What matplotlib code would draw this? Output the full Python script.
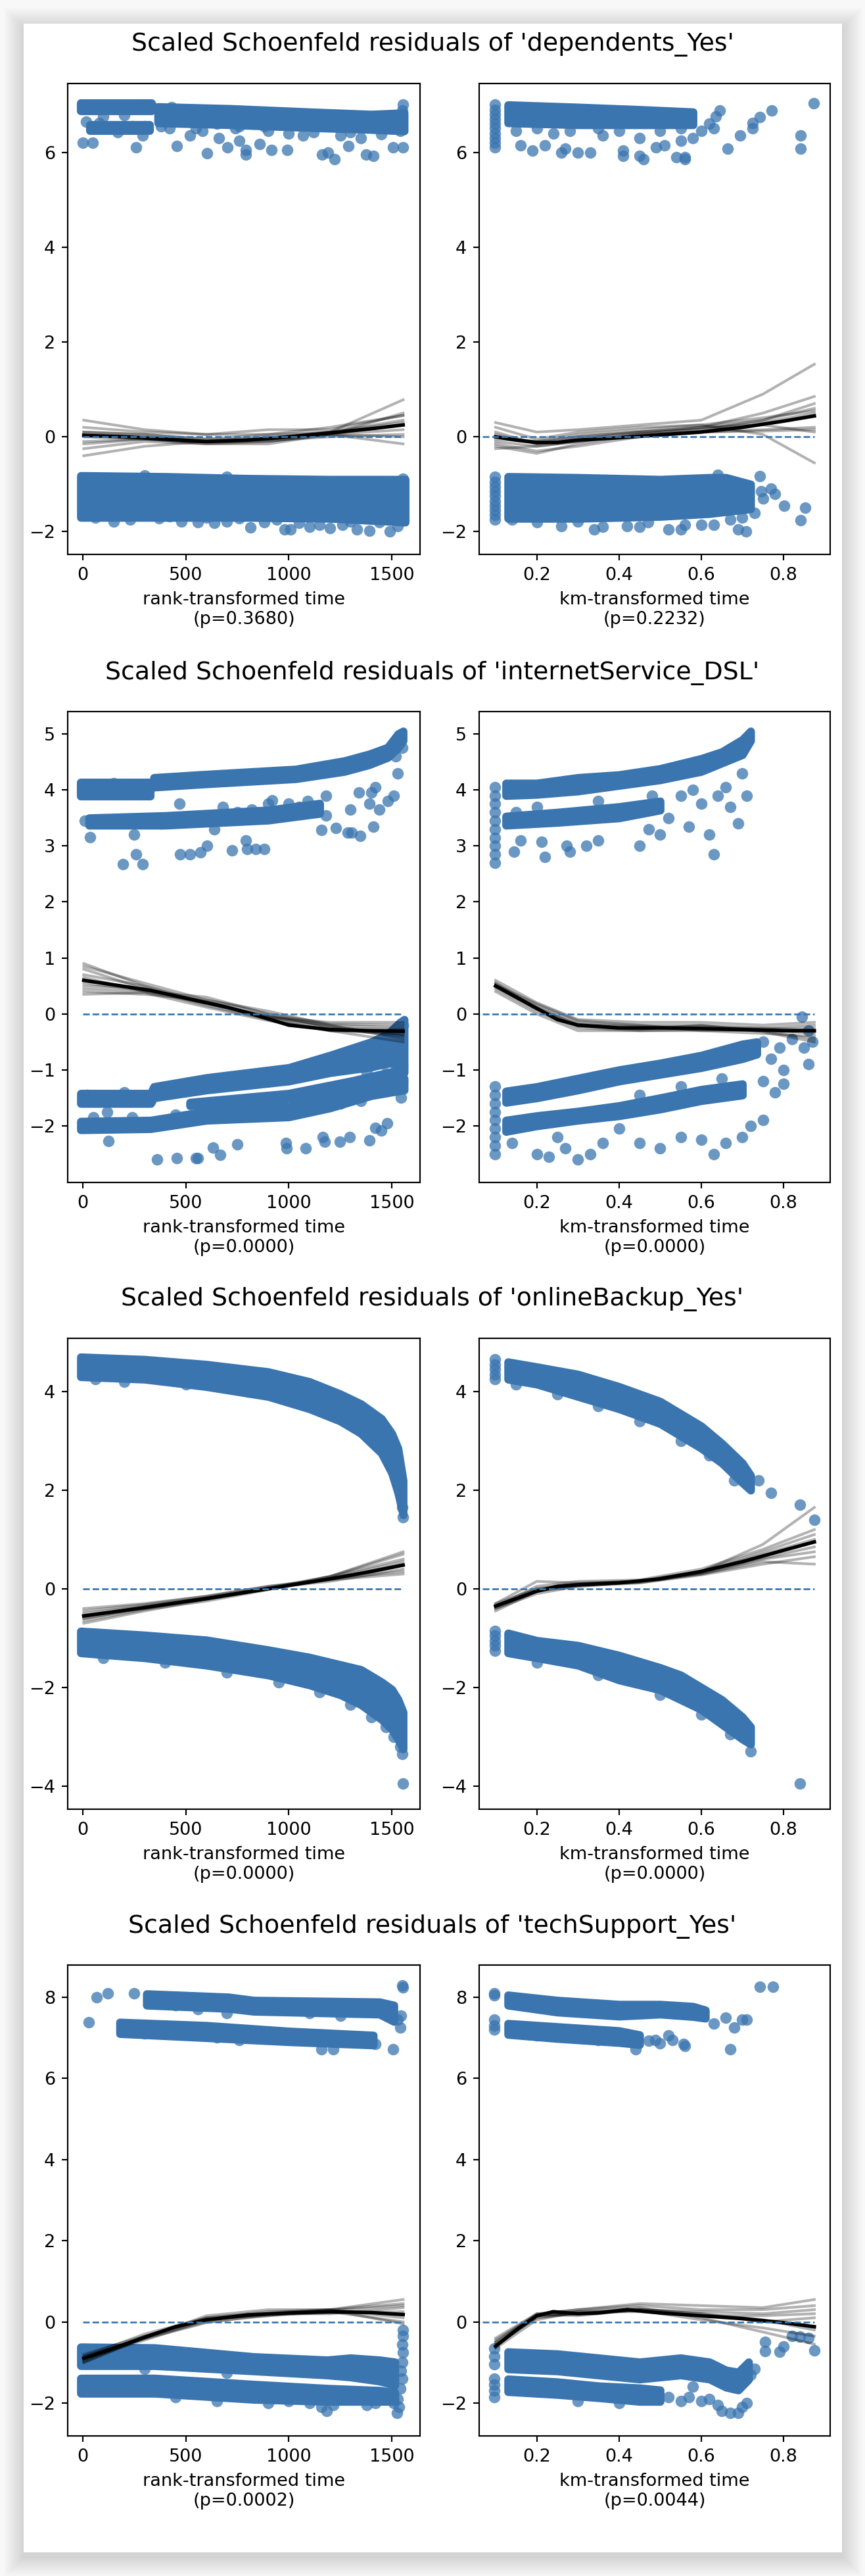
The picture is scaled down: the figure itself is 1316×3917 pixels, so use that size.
import matplotlib.pyplot as plt
from matplotlib.patches import Rectangle

# size of the reference picture and the scale it was drawn at
W, H = 1316, 3917
DPI = 195
DOT = "#3a75af"

variables = ["dependents_Yes", "internetService_DSL", "onlineBackup_Yes", "techSupport_Yes"]
p_rank = [0.3680, 0.0000, 0.0000, 0.0002]
p_km = [0.2232, 0.0000, 0.0000, 0.0044]
y_ticks = [[-2, 0, 2, 4, 6], [-2, -1, 0, 1, 2, 3, 4, 5], [-4, -2, 0, 2, 4], [-2, 0, 2, 4, 6, 8]]
y_limits = [(-2.48, 7.45), (-3.01, 5.40), (-4.47, 5.08), (-2.81, 8.79)]
rank_ticks = [0, 500, 1000, 1500]
km_ticks = [0.2, 0.4, 0.6, 0.8]
rank_lim = (-73, 1637)
km_lim = (0.060, 0.9135)
rank_max = 1555
km_max = 0.875

# x positions where the bootstrap lowess curves were read
RANK_KNOTS = [5, 300, 600, 900, 1200, 1555]
KM_KNOTS = [0.1, 0.2, 0.3, 0.45, 0.6, 0.75, 0.875]

# ---------------- dependents_Yes ----------------
# dense clouds of residuals: (x, lower edge, upper edge)
dep_rank_bands = [
    ([-10, 335], [6.87, 6.87], [7.04, 7.04]),
    ([35, 325], [6.45, 6.45], [6.58, 6.58]),
    ([365, 720, 1100, 1400, 1560], [6.62, 6.58, 6.52, 6.48, 6.45], [6.96, 6.92, 6.85, 6.8, 6.83]),
    ([-10, 400, 800, 1200, 1565], [-1.7, -1.7, -1.7, -1.72, -1.8], [-0.82, -0.84, -0.88, -0.9, -0.9]),
]
dep_rank_dots = [
    (0, 6.2), (48, 6.2), (15, 6.65), (80, 6.62), (170, 6.42), (260, 6.1), (290, 6.35), (455, 6.13),
    (420, 6.5), (520, 6.35), (580, 6.45), (603, 5.98), (650, 6.6), (660, 6.3), (703, 6.1), (740, 6.5),
    (760, 6.25), (792, 5.95), (792, 6.05), (857, 6.18), (880, 6.55), (917, 6.05), (993, 6.05), (1000, 6.4),
    (1070, 6.35), (1163, 5.95), (1190, 6.0), (1223, 5.85), (1288, 6.13), (1250, 6.35), (1376, 5.95),
    (1410, 5.92), (1350, 6.3), (1507, 6.1), (1555, 6.1), (1540, 6.45), (1555, 7.0), (1550, 6.88),
    (100, 6.75), (200, 6.78), (240, 6.55), (380, 6.55), (430, 6.95), (550, 6.5), (620, 6.88), (760, 6.55),
    (900, 6.45), (950, 6.8), (1120, 6.42), (1150, 6.65), (1300, 6.42), (1450, 6.38), (1500, 6.5),
    (340, 6.95), (120, 6.5), (300, 6.55),
    (230, -1.75), (370, -1.72), (480, -1.78), (560, -1.8), (640, -1.82), (700, -1.78), (815, -1.91),
    (880, -1.8), (980, -1.95), (1010, -1.95), (1050, -1.82), (1150, -1.85), (1200, -1.92), (1330, -1.95),
    (1390, -1.98), (1490, -2.0), (1530, -1.88), (1100, -1.9), (1260, -1.85), (150, -1.78), (1555, -0.88),
    (20, -1.62), (60, -1.7), (300, -1.65), (420, -1.68), (600, -1.7), (760, -1.72), (940, -1.74),
    (1300, -1.78), (1440, -1.8), (1545, -1.7), (1540, -0.95), (700, -0.85), (300, -0.82),
]
dep_rank_fit_x = [5, 200, 400, 600, 800, 1000, 1200, 1400, 1555]
dep_rank_fit_y = [0.03, 0.0, -0.05, -0.1, -0.07, 0.0, 0.08, 0.17, 0.25]
dep_rank_boot = [
    [0.35, 0.15, 0.05, 0.05, 0.1, 0.78],
    [-0.4, -0.2, -0.1, -0.05, 0.05, 0.5],
    [0.2, 0.1, 0.05, 0.15, 0.15, 0.45],
    [-0.25, -0.1, -0.15, -0.15, 0.05, 0.0],
    [0.1, 0.05, -0.05, 0.05, 0.2, 0.45],
    [-0.1, -0.05, -0.15, -0.1, 0.05, -0.15],
    [0.05, 0.0, -0.1, 0.0, 0.1, 0.3],
    [-0.15, -0.05, -0.1, -0.08, 0.0, 0.05],
    [0.1, 0.05, -0.05, -0.05, 0.1, 0.35],
    [0.0, -0.05, -0.12, -0.1, 0.05, 0.15],
]

dep_km_bands = [
    ([0.13, 0.3, 0.45, 0.58], [6.62, 6.58, 6.58, 6.58], [7.0, 6.95, 6.9, 6.85]),
    ([0.13, 0.3, 0.5, 0.62, 0.66, 0.72], [-1.72, -1.72, -1.68, -1.62, -1.58, -1.52],
     [-0.84, -0.86, -0.9, -0.86, -0.86, -1.0]),
]
dep_km_dots = [
    (0.098, 6.1), (0.098, 6.2), (0.098, 6.3), (0.098, 6.4), (0.098, 6.5), (0.098, 6.6), (0.098, 6.7),
    (0.098, 6.8), (0.098, 6.9), (0.098, 7.0),
    (0.16, 6.15), (0.19, 6.03), (0.22, 6.15), (0.24, 6.4), (0.26, 6.0), (0.27, 6.08), (0.3, 6.0),
    (0.33, 6.0), (0.36, 6.35), (0.41, 5.93), (0.41, 6.03), (0.45, 5.93), (0.45, 6.3), (0.46, 5.85),
    (0.49, 6.1), (0.51, 6.15), (0.54, 5.9), (0.56, 5.9), (0.56, 5.85), (0.55, 6.25), (0.58, 6.3),
    (0.6, 6.45), (0.62, 6.6), (0.63, 6.5), (0.636, 6.75), (0.645, 6.88), (0.664, 6.08), (0.694, 6.35),
    (0.725, 6.5), (0.725, 6.62), (0.743, 6.74), (0.771, 6.88), (0.841, 6.35), (0.841, 6.08), (0.874, 7.04),
    (0.2, 6.5), (0.35, 6.5), (0.5, 6.45), (0.15, 6.45), (0.28, 6.45), (0.4, 6.45), (0.55, 6.5),
    (0.098, -0.85), (0.098, -0.95), (0.098, -1.05), (0.098, -1.15), (0.098, -1.25), (0.098, -1.35),
    (0.098, -1.45), (0.098, -1.55), (0.098, -1.65), (0.098, -1.75),
    (0.2, -1.8), (0.26, -1.88), (0.34, -1.95), (0.36, -1.9), (0.42, -1.88), (0.45, -1.9), (0.47, -1.8),
    (0.52, -1.95), (0.55, -1.95), (0.56, -1.85), (0.6, -1.85), (0.63, -1.85), (0.67, -1.75), (0.69, -1.95),
    (0.709, -2.0), (0.73, -1.6), (0.743, -0.83), (0.745, -1.15), (0.77, -1.1), (0.78, -1.2), (0.801, -1.46),
    (0.841, -1.76), (0.852, -1.5), (0.75, -1.3), (0.7, -1.7), (0.64, -0.8), (0.14, -1.75), (0.3, -1.78),
]
dep_km_fit_x = [0.1, 0.15, 0.2, 0.25, 0.3, 0.4, 0.5, 0.6, 0.7, 0.8, 0.875]
dep_km_fit_y = [0.0, -0.07, -0.12, -0.12, -0.07, -0.02, 0.04, 0.1, 0.2, 0.33, 0.44]
dep_km_boot = [
    [0.3, 0.1, 0.15, 0.25, 0.35, 0.9, 1.53],
    [-0.25, -0.2, -0.1, 0.05, 0.2, 0.5, 0.85],
    [0.2, -0.05, 0.1, 0.2, 0.25, 0.05, -0.55],
    [-0.15, -0.3, -0.2, 0.0, 0.15, 0.35, 0.7],
    [0.1, -0.15, 0.0, 0.1, 0.2, 0.35, 0.6],
    [-0.1, -0.2, -0.1, 0.05, 0.1, 0.15, 0.2],
    [0.0, -0.1, 0.05, 0.15, 0.25, 0.4, 0.55],
    [-0.2, -0.35, -0.15, 0.05, 0.1, 0.12, 0.15],
    [0.05, -0.15, -0.05, 0.1, 0.2, 0.25, 0.1],
    [-0.05, -0.1, 0.0, 0.1, 0.15, 0.3, 0.5],
]

# ---------------- internetService_DSL ----------------
dsl_rank_bands = [
    ([-10, 330], [3.88, 3.88], [4.13, 4.13]),
    ([345, 560, 1034, 1270, 1390, 1480, 1530, 1555], [4.05, 4.1, 4.2, 4.33, 4.45, 4.58, 4.75, 4.88],
     [4.22, 4.27, 4.37, 4.52, 4.64, 4.76, 5.0, 5.05]),
    ([30, 400, 900, 1150], [3.37, 3.37, 3.46, 3.58], [3.5, 3.54, 3.64, 3.76]),
    ([-10, 330, 345, 600, 1000, 1200, 1400, 1480, 1540, 1560],
     [-1.6, -1.6, -1.5, -1.36, -1.2, -1.05, -0.95, -0.88, -0.9, -1.05],
     [-1.42, -1.42, -1.3, -1.14, -0.96, -0.74, -0.5, -0.36, -0.15, -0.1]),
    ([-10, 330, 600, 1000, 1200, 1400, 1560], [-2.07, -2.05, -1.9, -1.84, -1.68, -1.46, -1.36],
     [-1.92, -1.9, -1.74, -1.66, -1.5, -1.25, -1.15]),
    ([520, 1000, 1300, 1540], [-1.64, -1.52, -1.36, -1.22], [-1.58, -1.42, -1.2, -1.0]),
]
dsl_rank_dots = [
    (36, 3.16), (195, 2.68), (260, 2.85), (291, 2.68), (250, 3.2), (473, 2.85), (521, 2.85), (570, 2.89),
    (604, 3.0), (640, 3.3), (724, 2.92), (791, 3.1), (797, 2.95), (840, 2.95), (880, 2.95), (900, 3.75),
    (940, 3.6), (1000, 3.75), (1090, 3.8), (1158, 3.29), (1229, 3.32), (1180, 3.55), (1180, 3.9),
    (1287, 3.24), (1304, 3.24), (1346, 3.18), (1411, 3.35), (1300, 3.65), (1340, 3.95), (1390, 3.75),
    (1400, 3.95), (1420, 4.05), (1440, 3.65), (1510, 3.9), (1480, 3.8), (1530, 4.3), (1520, 4.6),
    (470, 3.75), (680, 3.7), (750, 3.6), (820, 3.65), (920, 3.82), (1050, 3.7), (1120, 3.7),
    (20, 4.1), (150, 4.12), (260, 4.1), (10, 3.45), (380, 3.4), (450, 3.5), (600, 3.52), (1550, 4.75),
    (124, -2.27), (361, -2.6), (455, -2.58), (550, -2.58), (560, -2.58), (632, -2.39), (667, -2.52),
    (750, -2.33), (986, -2.3), (990, -2.4), (1083, -2.4), (1166, -2.2), (1175, -2.28), (1249, -2.28),
    (1296, -2.2), (1390, -2.26), (1420, -2.03), (1450, -2.08), (1479, -1.95),
    (450, -1.8), (500, -1.85), (560, -1.6), (610, -1.7), (700, -1.65), (760, -1.55), (900, -1.6),
    (950, -1.5), (1050, -1.45), (1100, -1.6), (1250, -1.6), (1300, -1.45), (1350, -1.55), (1500, -1.3),
    (1550, -0.9), (1550, -0.6), (1555, -0.2), (1550, -1.2), (1545, -1.5), (1520, -1.05),
    (240, -1.85), (50, -1.85), (120, -1.75), (1380, -1.05), (1460, -0.9), (20, -1.45), (200, -1.4),
]
dsl_rank_fit_x = [5, 150, 330, 500, 700, 820, 1000, 1200, 1400, 1555]
dsl_rank_fit_y = [0.6, 0.52, 0.42, 0.28, 0.12, 0.0, -0.2, -0.28, -0.3, -0.31]
dsl_rank_boot = [
    [0.9, 0.5, 0.2, -0.05, -0.2, -0.25],
    [0.8, 0.45, 0.15, -0.1, -0.3, -0.35],
    [0.4, 0.35, 0.25, 0.05, -0.2, -0.45],
    [0.45, 0.4, 0.3, 0.0, -0.25, -0.4],
    [0.7, 0.5, 0.2, -0.05, -0.15, -0.15],
    [0.55, 0.42, 0.22, -0.05, -0.25, -0.28],
    [0.35, 0.38, 0.12, -0.12, -0.3, -0.5],
    [0.65, 0.4, 0.18, -0.08, -0.3, -0.3],
    [0.85, 0.55, 0.25, 0.0, -0.18, -0.2],
    [0.5, 0.45, 0.2, -0.05, -0.22, -0.38],
]

dsl_km_bands = [
    ([0.125, 0.2, 0.3, 0.4, 0.5, 0.6, 0.65, 0.7, 0.72], [3.9, 3.92, 3.98, 4.08, 4.18, 4.33, 4.48, 4.63, 4.88],
     [4.12, 4.12, 4.22, 4.27, 4.38, 4.56, 4.68, 4.9, 5.05]),
    ([0.125, 0.25, 0.4, 0.5], [3.37, 3.42, 3.5, 3.64], [3.53, 3.6, 3.7, 3.8]),
    ([0.125, 0.2, 0.3, 0.4, 0.5, 0.6, 0.7, 0.735], [-1.58, -1.5, -1.36, -1.2, -1.08, -0.96, -0.8, -0.72],
     [-1.38, -1.3, -1.15, -1.0, -0.88, -0.74, -0.54, -0.5]),
    ([0.125, 0.2, 0.3, 0.4, 0.5, 0.6, 0.7], [-2.1, -2.0, -1.9, -1.82, -1.7, -1.55, -1.45],
     [-1.9, -1.82, -1.74, -1.64, -1.5, -1.35, -1.25]),
]
dsl_km_dots = [
    (0.098, 2.7), (0.098, 2.85), (0.098, 3.0), (0.098, 3.15), (0.098, 3.3), (0.098, 3.45), (0.098, 3.6),
    (0.098, 3.75), (0.098, 3.9), (0.098, 4.05),
    (0.145, 2.9), (0.16, 3.1), (0.212, 3.08), (0.22, 2.8), (0.273, 3.0), (0.28, 2.9), (0.311, 3.5),
    (0.32, 3.0), (0.35, 3.1), (0.4, 3.6), (0.45, 3.0), (0.472, 3.3), (0.5, 3.2), (0.52, 3.5), (0.55, 3.9),
    (0.57, 3.35), (0.6, 3.75), (0.619, 3.2), (0.63, 2.85), (0.64, 3.9), (0.66, 4.05), (0.67, 3.7),
    (0.69, 3.4), (0.7, 4.3), (0.71, 3.9), (0.58, 4.0), (0.48, 3.9), (0.35, 3.8), (0.15, 3.6), (0.2, 3.7),
    (0.098, -1.3), (0.098, -1.45), (0.098, -1.6), (0.098, -1.75), (0.098, -1.9), (0.098, -2.05),
    (0.098, -2.2), (0.098, -2.35), (0.098, -2.5),
    (0.75, -0.5), (0.77, -0.8), (0.79, -0.6), (0.8, -1.0), (0.82, -0.45), (0.845, -0.05), (0.85, -0.6),
    (0.86, -0.9), (0.87, -0.5), (0.78, -1.4), (0.75, -1.2), (0.8, -1.25), (0.86, -0.3),
    (0.14, -2.3), (0.2, -2.5), (0.23, -2.55), (0.27, -2.4), (0.3, -2.6), (0.33, -2.5), (0.36, -2.3),
    (0.45, -2.3), (0.5, -2.4), (0.55, -2.2), (0.6, -2.25), (0.63, -2.5), (0.66, -2.3), (0.7, -2.2),
    (0.72, -2.0), (0.75, -1.9), (0.4, -2.05), (0.25, -2.2), (0.45, -1.45), (0.55, -1.3), (0.65, -1.15),
]
dsl_km_fit_x = [0.1, 0.15, 0.2, 0.25, 0.3, 0.4, 0.5, 0.6, 0.7, 0.8, 0.875]
dsl_km_fit_y = [0.5, 0.3, 0.1, -0.1, -0.2, -0.25, -0.25, -0.26, -0.28, -0.3, -0.3]
dsl_km_boot = [
    [0.55, 0.15, -0.15, -0.2, -0.2, -0.25, -0.3],
    [0.45, 0.05, -0.25, -0.3, -0.3, -0.35, -0.4],
    [0.6, 0.2, -0.1, -0.15, -0.15, -0.2, -0.15],
    [0.4, 0.0, -0.3, -0.3, -0.28, -0.3, -0.45],
    [0.5, 0.12, -0.2, -0.22, -0.25, -0.25, -0.2],
    [0.55, 0.1, -0.22, -0.28, -0.2, -0.32, -0.5],
    [0.48, 0.08, -0.18, -0.25, -0.22, -0.28, -0.35],
    [0.52, 0.18, -0.12, -0.2, -0.3, -0.28, -0.25],
]

# ---------------- onlineBackup_Yes ----------------
bak_rank_bands = [
    ([-10, 300, 600, 900, 1100, 1250, 1350, 1450, 1500, 1530, 1555],
     [4.3, 4.25, 4.1, 3.9, 3.65, 3.4, 3.15, 2.75, 2.35, 1.95, 1.5],
     [4.7, 4.65, 4.55, 4.4, 4.2, 3.95, 3.75, 3.45, 3.15, 2.85, 2.2]),
    ([-10, 300, 600, 900, 1100, 1250, 1350, 1450, 1500, 1530, 1555],
     [-1.3, -1.4, -1.55, -1.75, -1.95, -2.15, -2.35, -2.65, -2.85, -3.05, -3.25],
     [-0.86, -0.94, -1.04, -1.24, -1.39, -1.54, -1.64, -1.89, -2.04, -2.24, -2.5]),
]
bak_rank_dots = [
    (1555, 1.45), (1550, 1.65), (1545, 1.9), (1540, 2.2), (1520, 2.55), (1480, 2.75), (1420, 3.1),
    (1300, 3.45), (1200, 3.6), (1000, 3.85), (800, 4.0), (500, 4.15), (200, 4.2), (60, 4.25),
    (1555, -3.95), (1550, -3.35), (1540, -3.2), (1510, -3.0), (1470, -2.8), (1400, -2.6), (1300, -2.35),
    (1150, -2.1), (950, -1.9), (700, -1.7), (400, -1.5), (100, -1.4),
]
bak_rank_fit_x = [5, 300, 600, 900, 1200, 1400, 1555]
bak_rank_fit_y = [-0.55, -0.38, -0.2, 0.0, 0.2, 0.35, 0.48]
bak_rank_boot = [
    [-0.7, -0.45, -0.22, 0.0, 0.25, 0.7],
    [-0.4, -0.3, -0.15, 0.05, 0.2, 0.35],
    [-0.6, -0.4, -0.2, 0.0, 0.22, 0.55],
    [-0.5, -0.35, -0.18, 0.02, 0.15, 0.4],
    [-0.65, -0.42, -0.25, -0.02, 0.25, 0.75],
    [-0.45, -0.32, -0.15, 0.05, 0.18, 0.3],
    [-0.55, -0.4, -0.2, 0.0, 0.2, 0.5],
    [-0.6, -0.38, -0.18, 0.02, 0.25, 0.6],
]

bak_km_bands = [
    ([0.13, 0.2, 0.3, 0.4, 0.5, 0.55, 0.6, 0.65, 0.7, 0.72],
     [4.25, 4.15, 3.9, 3.65, 3.35, 3.1, 2.85, 2.55, 2.15, 2.0],
     [4.6, 4.5, 4.35, 4.1, 3.8, 3.55, 3.3, 2.95, 2.55, 2.3]),
    ([0.13, 0.2, 0.3, 0.4, 0.5, 0.55, 0.6, 0.65, 0.7, 0.72],
     [-1.3, -1.4, -1.55, -1.85, -2.05, -2.25, -2.45, -2.75, -3.05, -3.15],
     [-0.9, -1.05, -1.15, -1.35, -1.6, -1.75, -2.0, -2.25, -2.6, -2.8]),
]
bak_km_dots = [
    (0.098, 4.25), (0.098, 4.35), (0.098, 4.45), (0.098, 4.55), (0.098, 4.65),
    (0.7, 2.3), (0.74, 2.2), (0.77, 1.95), (0.84, 1.7), (0.875, 1.4),
    (0.15, 4.15), (0.25, 3.95), (0.35, 3.7), (0.45, 3.4), (0.55, 3.0), (0.62, 2.7), (0.68, 2.2),
    (0.098, -0.85), (0.098, -0.95), (0.098, -1.05), (0.098, -1.15), (0.098, -1.25),
    (0.72, -3.3), (0.84, -3.95), (0.2, -1.5), (0.35, -1.75), (0.5, -2.15), (0.6, -2.55), (0.67, -2.95),
]
bak_km_fit_x = [0.1, 0.15, 0.2, 0.25, 0.3, 0.4, 0.5, 0.6, 0.7, 0.8, 0.875]
bak_km_fit_y = [-0.35, -0.2, -0.05, 0.05, 0.08, 0.12, 0.2, 0.35, 0.55, 0.78, 0.95]
bak_km_boot = [
    [-0.3, 0.0, 0.1, 0.15, 0.35, 0.9, 1.65],
    [-0.4, -0.1, 0.05, 0.12, 0.3, 0.55, 0.5],
    [-0.35, 0.05, 0.15, 0.18, 0.4, 0.8, 1.2],
    [-0.45, -0.05, 0.05, 0.15, 0.3, 0.6, 0.75],
    [-0.3, 0.15, 0.12, 0.15, 0.35, 0.7, 1.0],
    [-0.4, -0.05, 0.08, 0.12, 0.28, 0.5, 0.65],
    [-0.35, 0.0, 0.1, 0.16, 0.36, 0.75, 1.1],
    [-0.38, -0.02, 0.07, 0.14, 0.32, 0.62, 0.85],
]

# ---------------- techSupport_Yes ----------------
tech_rank_bands = [
    ([310, 708, 830, 1440, 1510], [7.8, 7.72, 7.65, 7.58, 7.4], [8.08, 8.0, 7.92, 7.88, 7.8]),
    ([180, 600, 1000, 1410], [7.1, 7.0, 6.9, 6.82], [7.38, 7.3, 7.16, 7.06]),
    ([-10, 350, 830, 1185, 1300, 1440, 1515], [-1.08, -1.08, -1.21, -1.31, -1.36, -1.46, -1.56],
     [-0.62, -0.64, -0.86, -0.94, -0.89, -0.94, -0.99]),
    ([-10, 350, 830, 1185, 1440, 1515], [-1.76, -1.76, -1.91, -1.96, -1.96, -1.96],
     [-1.39, -1.39, -1.54, -1.64, -1.69, -1.74]),
]
tech_rank_dots = [
    (29, 7.38), (68, 8.0), (121, 8.09), (249, 8.09), (1160, 6.71), (1215, 6.71), (1505, 6.71),
    (1555, 8.24), (1550, 8.28), (1545, 7.55), (1540, 7.25), (1530, 7.45), (1500, 7.55), (980, 7.85),
    (700, 7.6), (560, 7.7), (760, 6.95), (880, 7.05), (1300, 7.0), (1380, 6.9), (1420, 6.85), (1330, 7.7),
    (400, 7.2), (300, 7.1), (340, 7.95), (450, 7.8), (1100, 7.6), (1250, 7.55), (200, 7.25), (650, 7.0),
    (1555, -0.2), (1555, -0.35), (1550, -0.55), (1555, -0.75), (1550, -1.0), (1545, -1.2), (1550, -1.4),
    (1540, -1.65), (1530, -1.9), (1535, -2.1), (1525, -2.25), (1510, -2.0),
    (1160, -2.1), (1215, -2.05), (1185, -2.2), (1100, -2.0), (1000, -1.95), (900, -2.0), (650, -1.95),
    (450, -1.85), (1380, -2.05), (1420, -2.0), (0, -0.7), (0, -1.55), (300, -1.15), (700, -1.25),
]
tech_rank_fit_x = [5, 150, 300, 450, 600, 800, 1000, 1200, 1400, 1555]
tech_rank_fit_y = [-0.9, -0.65, -0.38, -0.12, 0.05, 0.17, 0.22, 0.25, 0.23, 0.18]
tech_rank_boot = [
    [-1.0, -0.4, 0.15, 0.3, 0.3, 0.55],
    [-0.85, -0.3, 0.1, 0.25, 0.3, 0.45],
    [-0.95, -0.4, 0.0, 0.15, 0.25, 0.0],
    [-0.8, -0.35, 0.05, 0.2, 0.2, 0.35],
    [-0.9, -0.45, 0.05, 0.2, 0.28, 0.4],
    [-1.0, -0.38, 0.08, 0.15, 0.3, 0.1],
    [-0.85, -0.42, -0.02, 0.18, 0.22, 0.25],
    [-0.92, -0.36, 0.1, 0.22, 0.3, -0.05],
]

tech_km_bands = [
    ([0.13, 0.25, 0.4, 0.5, 0.58, 0.61], [7.8, 7.63, 7.53, 7.58, 7.52, 7.48], [8.05, 7.92, 7.82, 7.82, 7.77, 7.68]),
    ([0.13, 0.25, 0.4, 0.45], [7.08, 6.98, 6.88, 6.83], [7.35, 7.27, 7.17, 7.07]),
    ([0.13, 0.25, 0.35, 0.45, 0.55, 0.62, 0.66, 0.69, 0.715],
     [-1.16, -1.21, -1.31, -1.41, -1.31, -1.41, -1.61, -1.68, -1.42],
     [-0.74, -0.79, -0.89, -0.99, -0.89, -0.99, -1.19, -1.24, -0.99]),
    ([0.13, 0.25, 0.35, 0.45, 0.5], [-1.72, -1.79, -1.87, -1.96, -1.96], [-1.41, -1.48, -1.58, -1.63, -1.68]),
]
tech_km_dots = [
    (0.096, 8.05), (0.096, 8.1), (0.096, 7.45), (0.096, 7.3), (0.096, 7.2),
    (0.63, 7.35), (0.66, 7.5), (0.68, 7.25), (0.7, 7.45), (0.71, 7.45), (0.67, 6.72), (0.743, 8.25),
    (0.774, 8.25), (0.44, 6.72), (0.472, 6.92), (0.489, 6.95), (0.5, 6.87), (0.53, 6.95), (0.557, 6.84),
    (0.56, 6.8), (0.41, 7.0), (0.35, 6.95), (0.3, 7.0), (0.2, 7.05), (0.52, 7.05),
    (0.096, -0.65), (0.096, -0.85), (0.096, -1.05), (0.096, -1.4), (0.096, -1.55), (0.096, -1.7),
    (0.096, -1.85),
    (0.52, -1.85), (0.55, -1.95), (0.57, -1.85), (0.6, -1.95), (0.62, -1.9), (0.64, -2.05), (0.65, -2.2),
    (0.67, -2.25), (0.69, -2.25), (0.7, -2.1), (0.71, -2.0), (0.72, -1.3), (0.73, -1.15), (0.755, -0.5),
    (0.755, -0.72), (0.79, -0.74), (0.8, -0.6), (0.82, -0.34), (0.84, -0.36), (0.86, -0.4), (0.875, -0.7),
    (0.58, -1.6), (0.4, -2.0), (0.3, -1.95),
]
tech_km_fit_x = [0.1, 0.15, 0.2, 0.24, 0.3, 0.35, 0.42, 0.5, 0.6, 0.7, 0.8, 0.875]
tech_km_fit_y = [-0.6, -0.2, 0.15, 0.25, 0.2, 0.22, 0.3, 0.22, 0.15, 0.08, -0.02, -0.12]
tech_km_boot = [
    [-0.4, 0.2, 0.3, 0.45, 0.4, 0.35, 0.55],
    [-0.55, 0.1, 0.2, 0.3, 0.25, 0.2, 0.3],
    [-0.6, 0.15, 0.25, 0.35, 0.1, -0.25, -0.55],
    [-0.5, 0.2, 0.15, 0.3, 0.2, 0.05, -0.2],
    [-0.65, 0.05, 0.25, 0.25, 0.15, 0.15, 0.2],
    [-0.45, 0.18, 0.3, 0.4, 0.3, 0.3, 0.4],
    [-0.6, 0.12, 0.2, 0.28, 0.05, -0.15, -0.35],
    [-0.5, 0.15, 0.22, 0.32, 0.2, 0.0, 0.1],
]

rank_panels = [
    (dep_rank_bands, dep_rank_dots, dep_rank_fit_x, dep_rank_fit_y, dep_rank_boot),
    (dsl_rank_bands, dsl_rank_dots, dsl_rank_fit_x, dsl_rank_fit_y, dsl_rank_boot),
    (bak_rank_bands, bak_rank_dots, bak_rank_fit_x, bak_rank_fit_y, bak_rank_boot),
    (tech_rank_bands, tech_rank_dots, tech_rank_fit_x, tech_rank_fit_y, tech_rank_boot),
]
km_panels = [
    (dep_km_bands, dep_km_dots, dep_km_fit_x, dep_km_fit_y, dep_km_boot),
    (dsl_km_bands, dsl_km_dots, dsl_km_fit_x, dsl_km_fit_y, dsl_km_boot),
    (bak_km_bands, bak_km_dots, bak_km_fit_x, bak_km_fit_y, bak_km_boot),
    (tech_km_bands, tech_km_dots, tech_km_fit_x, tech_km_fit_y, tech_km_boot),
]


def draw_panel(ax, panel, knots, xmax, xlim, ylim, xticks, yticks, xlabel):
    bands, dots, fit_x, fit_y, boot = panel
    # the overlapping points pile up into solid clouds; round outline mimics the dot edges
    for bx, lo, hi in bands:
        ax.fill_between(bx, lo, hi, facecolor=DOT, edgecolor=DOT, linewidth=4.5, joinstyle="round")
    xs = [d[0] for d in dots]
    ys = [d[1] for d in dots]
    ax.scatter(xs, ys, s=42, color=DOT, alpha=0.75, linewidths=0)
    ax.plot(fit_x, fit_y, color="k", alpha=1.0, linewidth=2)
    for b in boot:
        ax.plot(knots, b, color="k", alpha=0.30, linewidth=1.5)
    ax.hlines(0, 0, xmax, linestyles="dashed", linewidths=1, colors=DOT)
    ax.set_xlim(xlim)
    ax.set_ylim(ylim)
    ax.set_xticks(xticks)
    ax.set_yticks(yticks)
    ax.set_xlabel(xlabel, fontsize=10)


fig = plt.figure(figsize=(W / DPI, H / DPI), dpi=DPI, facecolor="#f8f8f8")

# the white card with a soft shadow around it
card_l, card_r, card_t, card_b = 36, 1281, 36, 3881
for i in range(12):
    g = 2.5 * (12 - i)
    fig.add_artist(Rectangle(((card_l - g) / W, 1 - (card_b + g + 6) / H),
                             (card_r - card_l + 2 * g) / W, (card_b - card_t + 2 * g) / H,
                             transform=fig.transFigure, facecolor="k", edgecolor="none",
                             alpha=0.012, zorder=-2))
fig.add_artist(Rectangle((card_l / W, 1 - card_b / H), (card_r - card_l) / W, (card_b - card_t) / H,
                         transform=fig.transFigure, facecolor="white", edgecolor="none", zorder=-1))

axes_tops = [127, 1082, 2035, 2988]
axes_h = 716
for k in range(4):
    top = axes_tops[k]
    bottom = 1 - (top + axes_h) / H
    ax1 = fig.add_axes([103 / W, bottom, 536 / W, axes_h / H])
    ax2 = fig.add_axes([729 / W, bottom, 534 / W, axes_h / H])
    draw_panel(ax1, rank_panels[k], RANK_KNOTS, rank_max, rank_lim, y_limits[k], rank_ticks, y_ticks[k],
               "rank-transformed time\n(p=%.4f)" % p_rank[k])
    draw_panel(ax2, km_panels[k], KM_KNOTS, km_max, km_lim, y_limits[k], km_ticks, y_ticks[k],
               "km-transformed time\n(p=%.4f)" % p_km[k])
    fig.text(0.5, 1 - (top - 59) / H, "Scaled Schoenfeld residuals of '%s'" % variables[k],
             ha="center", va="center", fontsize=14)

fig.savefig("out.png", dpi=DPI, facecolor=fig.get_facecolor())
